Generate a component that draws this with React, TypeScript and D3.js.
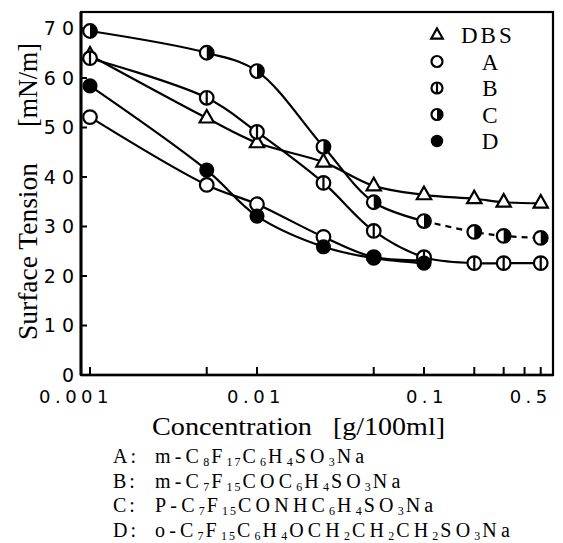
import React from 'react';
import * as d3 from 'd3';

// concentration [g/100ml]
const concentration = [0.001, 0.005, 0.01, 0.025, 0.05, 0.1, 0.2, 0.3, 0.5];

// surface tension [mN/m]
const dbsTension = [64.6, 51.9, 46.9, 43.0, 38.2, 36.4, 35.6, 34.9, 34.7];
const aTension = [52.1, 38.4, 34.5, 27.9, 23.8, 23.2];
const bTension = [64.0, 56.0, 49.1, 38.8, 29.1, 23.8, 22.6, 22.6, 22.6];
const cTension = [69.5, 65.1, 61.4, 46.1, 34.9, 31.1, 28.9, 28.1, 27.7];
const dTension = [58.4, 41.4, 32.1, 25.9, 23.6, 22.6];

const seriesNames = ['DBS', 'A', 'B', 'C', 'D'];
const markerTypes = ['tri', 'open', 'vline', 'half', 'filled'];

const xTickValues = [0.001, 0.005, 0.01, 0.05, 0.1, 0.2, 0.3, 0.4, 0.5];
const xLabelValues = [0.001, 0.01, 0.1, 0.5];
const xLabelText = ['0.001', '0.01', '0.1', '0.5'];
const yTickValues = [0, 10, 20, 30, 40, 50, 60, 70];

const formulaKeys = ['A', 'B', 'C', 'D'];
const formulas = [
  'm-C8F17C6H4SO3Na',
  'm-C7F15COC6H4SO3Na',
  'P-C7F15CONHC6H4SO3Na',
  'o-C7F15C6H4OCH2CH2CH2SO3Na',
];

const W = 563;
const H = 543;
const box = { left: 81, right: 553, top: 12, bottom: 375 };

// label nudges, the printed labels are not centred on the ticks
const xLabelShift = [-14, -1, 3, -10];

const Marker = ({ type, x, y, r }: { type: string; x: number; y: number; r: number }) => {
  if (type === 'tri') {
    const p = `M${x},${y - r * 1.2}L${x - r * 1.05},${y + r * 0.65}L${x + r * 1.05},${y + r * 0.65}Z`;
    return <path d={p} fill="#fff" stroke="#000" strokeWidth={2.2} strokeLinejoin="miter" />;
  }
  if (type === 'filled') {
    return <circle cx={x} cy={y} r={r} fill="#000" stroke="#000" strokeWidth={1.5} />;
  }
  return (
    <g>
      <circle cx={x} cy={y} r={r} fill="#fff" stroke="#000" strokeWidth={2.2} />
      {type === 'vline' && <line x1={x} x2={x} y1={y - r} y2={y + r} stroke="#000" strokeWidth={2.2} />}
      {type === 'half' && <path d={`M${x},${y - r}A${r},${r} 0 0 1 ${x},${y + r}Z`} fill="#000" />}
    </g>
  );
};

const Formula = ({ text, x, y }: { text: string; x: number; y: number }) => {
  const parts = text.match(/\d+|[^\d]+/g) || [];
  return (
    <text x={x} y={y} fontFamily="'Liberation Serif', serif" fontSize={20} letterSpacing={4.2} fill="#000">
      {parts.map((p, i) =>
        /\d/.test(p) ? (
          <tspan key={i} fontSize={12} dy={3} letterSpacing={2}>{p}</tspan>
        ) : (
          <tspan key={i} dy={i > 0 ? -3 : 0}>{p}</tspan>
        )
      )}
    </text>
  );
};

export default function App() {
  const x = d3.scaleLog()
    .domain([0.001 * Math.pow(10, -9 / 167), 0.001 * Math.pow(10, (box.right - 90) / 167)])
    .range([box.left, box.right]);
  const y = d3.scaleLinear()
    .domain([0, (box.bottom - box.top) / 4.95])
    .range([box.bottom, box.top]);

  const line = d3.line<[number, number]>()
    .x(d => x(d[0]))
    .y(d => y(d[1]))
    .curve(d3.curveCatmullRom.alpha(0.5));

  const allValues = [dbsTension, aTension, bTension, cTension, dTension];
  const series = allValues.map((vals, i) => ({
    name: seriesNames[i],
    marker: markerTypes[i],
    points: vals.map((v, j) => [concentration[j], v] as [number, number]),
  }));

  return (
    <svg width={W} height={H} style={{ position: 'absolute', left: 0, top: 0, background: '#fff' }}>
      {/* frame */}
      <rect x={box.left} y={box.top} width={box.right - box.left} height={box.bottom - box.top}
        fill="none" stroke="#000" strokeWidth={2.2} />
      <line x1={box.left} x2={box.left} y1={box.top} y2={box.bottom} stroke="#000" strokeWidth={3} />
      <line x1={box.left} x2={box.right} y1={box.bottom} y2={box.bottom} stroke="#000" strokeWidth={2.6} />

      {/* x ticks */}
      {xTickValues.map(t => (
        <line key={t} x1={x(t)} x2={x(t)} y1={box.bottom} y2={box.bottom - 8} stroke="#000" strokeWidth={2} />
      ))}
      {xLabelValues.map((t, i) => (
        <text key={t} x={x(t) + xLabelShift[i]} y={403} textAnchor="middle"
          fontFamily="'DejaVu Sans', sans-serif" fontSize={18} letterSpacing={4.5}>{xLabelText[i]}</text>
      ))}

      {/* y ticks */}
      {yTickValues.map(t => (
        <g key={t}>
          {t > 0 && <line x1={box.left} x2={box.left + 6} y1={y(t)} y2={y(t)} stroke="#000" strokeWidth={2} />}
          <text x={80} y={y(t)} dy="0.36em" textAnchor="end"
            fontFamily="'DejaVu Sans', sans-serif" fontSize={19} letterSpacing={6}>{t}</text>
        </g>
      ))}

      {/* axis titles */}
      <g transform="translate(37,340) rotate(-90)">
        <text x={0} y={0} fontFamily="'Liberation Serif', serif" fontSize={27}
          textLength={177} lengthAdjust="spacingAndGlyphs">Surface Tension</text>
        <text x={213} y={0} fontFamily="'Liberation Serif', serif" fontSize={27}
          textLength={84} lengthAdjust="spacingAndGlyphs">[mN/m]</text>
      </g>
      <text x={152} y={435} fontFamily="'Liberation Serif', serif" fontSize={25}
        textLength={160} lengthAdjust="spacingAndGlyphs">Concentration</text>
      <text x={333} y={435} fontFamily="'Liberation Serif', serif" fontSize={25}
        textLength={112} lengthAdjust="spacingAndGlyphs">[g/100ml]</text>

      {/* curves */}
      {series.map(s => {
        const solid = s.name === 'C' ? s.points.slice(0, 6) : s.points;
        return (
          <g key={s.name}>
            <path d={line(solid) || ''} fill="none" stroke="#000" strokeWidth={2.2} />
            {s.name === 'C' && (
              <path d={line(s.points.slice(5)) || ''} fill="none" stroke="#000" strokeWidth={2.2}
                strokeDasharray="6,5" />
            )}
          </g>
        );
      })}

      {/* markers */}
      {series.map(s => (
        <g key={s.name}>
          {s.points.map((p, j) => (
            <Marker key={j} type={s.marker} x={x(p[0])} y={y(p[1])} r={6.8} />
          ))}
        </g>
      ))}

      {/* legend */}
      {series.map((s, i) => {
        const ly = 35 + i * 26.5;
        return (
          <g key={s.name}>
            <Marker type={s.marker} x={437} y={ly} r={5.5} />
            <text x={s.name === 'DBS' ? 461 : 490} y={ly} dy="0.36em"
              textAnchor={s.name === 'DBS' ? 'start' : 'middle'}
              fontFamily="'Liberation Serif', serif" fontSize={23} letterSpacing={s.name === 'DBS' ? 3 : 0}>
              {s.name}
            </text>
          </g>
        );
      })}

      {/* compound list */}
      {formulaKeys.map((k, i) => {
        const fy = 463 + i * 24.5;
        return (
          <g key={k}>
            <text x={113} y={fy} fontFamily="'Liberation Serif', serif" fontSize={20} letterSpacing={3}>{k}:</text>
            <Formula text={formulas[i]} x={155} y={fy} />
          </g>
        );
      })}
    </svg>
  );
}
